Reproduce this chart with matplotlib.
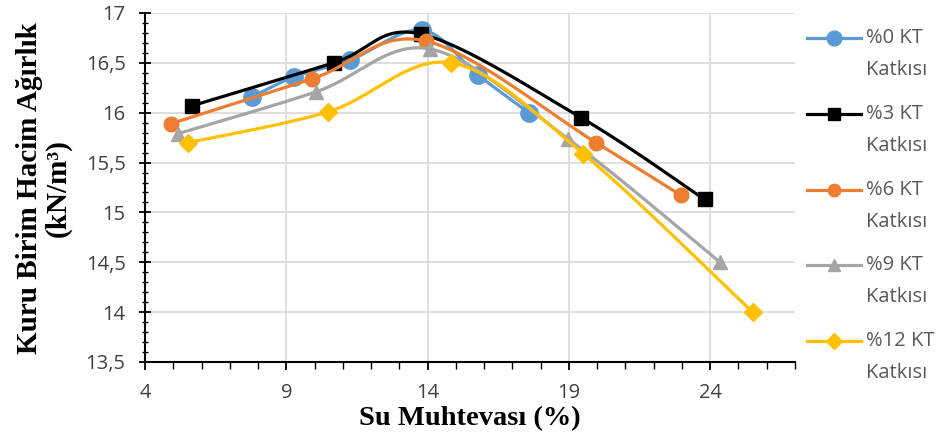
import numpy as np
import matplotlib
matplotlib.use("Agg")
import matplotlib.pyplot as plt
from matplotlib.ticker import MultipleLocator, FixedLocator, FuncFormatter
from matplotlib.lines import Line2D

# Data
labels = ["%0 KT\nKatkısı", "%3 KT\nKatkısı", "%6 KT\nKatkısı", "%9 KT\nKatkısı", "%12 KT\nKatkısı"]
x0 = [7.8, 9.28, 11.27, 13.8, 15.77, 17.58]
y0 = [16.16, 16.36, 16.53, 16.83, 16.38, 16.0]
x3 = [5.67, 10.67, 13.75, 19.43, 23.8]
y3 = [16.07, 16.50, 16.79, 15.95, 15.13]
x6 = [4.92, 9.92, 13.93, 19.96, 22.97]
y6 = [15.89, 16.34, 16.72, 15.70, 15.17]
x9 = [5.17, 10.06, 14.07, 18.96, 24.35]
y9 = [15.79, 16.21, 16.64, 15.74, 14.50]
x12 = [5.52, 10.49, 14.82, 19.5, 25.5]
y12 = [15.70, 16.01, 16.50, 15.59, 14.0]
xticks = [4, 9, 14, 19, 24]

colors = ["#5B9BD5", "#000000", "#ED7D31", "#A5A5A5", "#FFC000"]
markers = ["o", "s", "o", "^", "D"]
msizes = [12.5, 9.5, 10.5, 10.5, 9]

def smooth(xs, ys, n=40):
    P = np.column_stack([xs, ys]).astype(float)
    m = len(P)
    out = [P[0]]
    for i in range(m - 1):
        p0 = P[i - 1] if i > 0 else P[i]
        p1 = P[i]
        p2 = P[i + 1]
        p3 = P[i + 2] if i + 2 < m else P[i + 1]
        c1 = p1 + (p2 - p0) / 6.0
        c2 = p2 - (p3 - p1) / 6.0
        t = np.linspace(0, 1, n)[1:, None]
        seg = ((1 - t) ** 3) * p1 + 3 * ((1 - t) ** 2) * t * c1 + 3 * (1 - t) * t ** 2 * c2 + t ** 3 * p2
        out.extend(seg)
    out = np.array(out)
    return out[:, 0], out[:, 1]

W, H = 941, 447
fig = plt.figure(figsize=(W / 100, H / 100), dpi=100)
ax = fig.add_axes([145 / W, (H - 362) / H, (795 - 145) / W, (362 - 13) / H])

series = [(x0, y0), (x3, y3), (x6, y6), (x9, y9), (x12, y12)]
for i, (xs, ys) in enumerate(series):
    sx, sy = smooth(xs, ys)
    ax.plot(sx, sy, color=colors[i], lw=2.3, zorder=3 + i, solid_capstyle="round")
    ax.plot(xs, ys, linestyle="none", marker=markers[i], color=colors[i],
            markersize=msizes[i], zorder=3 + i)

ax.set_xlim(4, 27)
ax.set_ylim(13.5, 17)
ax.xaxis.set_major_locator(FixedLocator(xticks))
ax.xaxis.set_minor_locator(MultipleLocator(1))
ax.yaxis.set_major_locator(MultipleLocator(0.5))
ax.yaxis.set_minor_locator(MultipleLocator(0.1))
fmt = FuncFormatter(lambda v, p: ("%g" % v).replace(".", ","))
ax.xaxis.set_major_formatter(fmt)
ax.yaxis.set_major_formatter(fmt)

ax.grid(True, which="major", color="#D9D9D9", lw=1.2, zorder=0)
ax.set_axisbelow(True)
for s in ["top", "right"]:
    ax.spines[s].set_visible(False)
for s in ["left", "bottom"]:
    ax.spines[s].set_linewidth(1.5)
    ax.spines[s].set_color("black")

ax.tick_params(axis="y", which="major", direction="inout", length=8, width=1.3,
               labelsize=14.5, labelcolor="#404040", pad=10)
ax.tick_params(axis="y", which="minor", direction="inout", length=5, width=1.0)
ax.tick_params(axis="x", which="major", direction="out", length=6, width=1.3,
               labelsize=14.5, labelcolor="#404040", pad=9)
ax.tick_params(axis="x", which="minor", direction="out", length=5, width=1.0)
for lab in ax.get_xticklabels() + ax.get_yticklabels():
    lab.set_fontfamily("Open Sans")

fig.text(470 / W, 1 - 419 / H, "Su Muhtevası (%)", fontsize=20.5, fontweight="bold",
         family="Liberation Serif", ha="center", va="center")
fig.text(44 / W, 1 - 188 / H, "Kuru Birim Hacim Ağırlık\n(kN/m³)", fontsize=21,
         fontweight="bold", family="Liberation Serif", ha="center", va="center",
         rotation=90, linespacing=1.1, multialignment="center")

# manual legend
y_first = 38
step = 75.8
for i in range(len(labels)):
    yc = y_first + i * step
    yf = 1 - yc / H
    fig.add_artist(Line2D([807 / W, 861 / W], [yf, yf], color=colors[i], lw=2.3,
                          transform=fig.transFigure))
    fig.add_artist(Line2D([834 / W], [yf], color=colors[i], marker=markers[i],
                          markersize=msizes[i] * 0.85, linestyle="none",
                          transform=fig.transFigure))
    l1, l2 = labels[i].split("\n")
    fig.text(866 / W, yf, l1, fontsize=14.5, family="Open Sans", color="#595959",
             ha="left", va="center")
    fig.text(866 / W, 1 - (yc + 32) / H, l2, fontsize=14.5, family="Open Sans",
             color="#595959", ha="left", va="center")

fig.savefig("out.png", dpi=100)
